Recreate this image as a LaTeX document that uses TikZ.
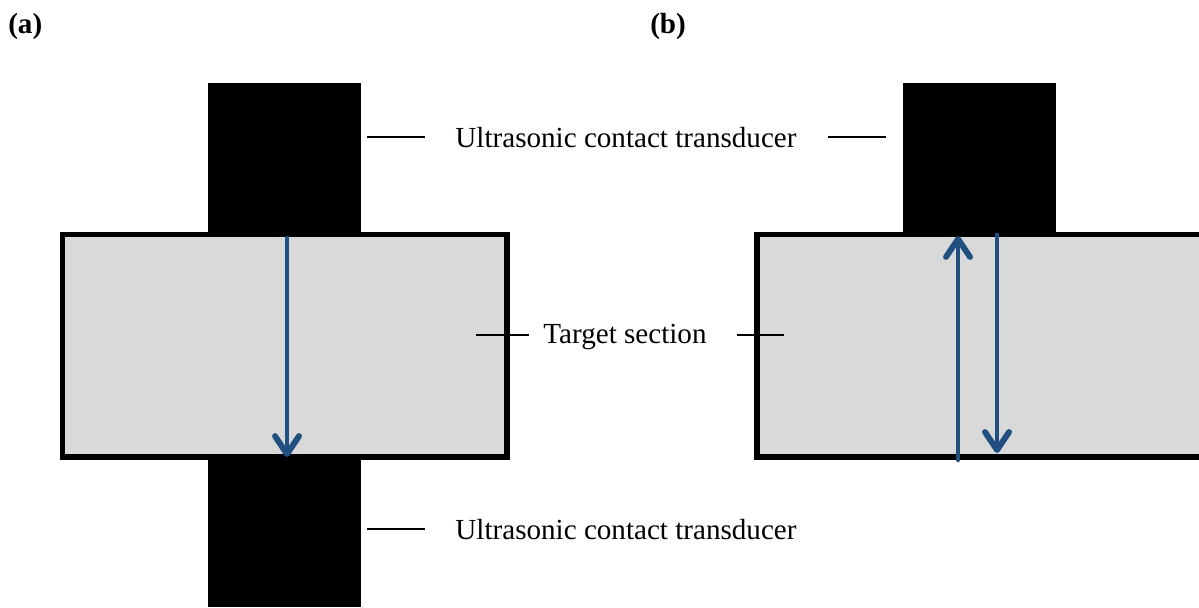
\documentclass[tikz,border=0pt]{standalone}
\usepackage{fontspec}
\setmainfont{Liberation Serif}
\usetikzlibrary{arrows.meta}
\definecolor{wavecol}{RGB}{33,79,128}
\definecolor{sectioncol}{RGB}{217,217,217}

\begin{document}
\begin{tikzpicture}[x=0.025cm, y=-0.025cm,
  probe/.style={fill=black},
  body/.style={fill=sectioncol, draw=black, line width=3.6pt},
  wave/.style={draw=wavecol, line width=3.2pt, line cap=round, -{Straight Barb[length=4.5mm, width=6mm, round, line width=4.2pt]}},
  lbl/.style={font=\fontsize{20.7}{24}\selectfont, inner sep=0pt, anchor=base},
  tag/.style={font=\fontsize{20.7}{24}\selectfont\bfseries, inner sep=0pt, anchor=base west},
  lead/.style={line width=1.5pt}
]
\useasboundingbox (0,0) rectangle (1199,607);

% panel (a): through-transmission
\fill[probe] (208,83) rectangle (361,236);
\fill[probe] (208,456) rectangle (361,607);
\draw[body] (62.5,234.5) rectangle (507,457);
\coordinate (a-in) at (287,238);
\coordinate (a-out) at (287,457);
\draw[wave] (a-in) -- (a-out);

% panel (b): pulse-echo
\fill[probe] (903,83) rectangle (1056,236);
\draw[body] (757,234.5) rectangle (1215,457);
\coordinate (b-echo) at (958,460);
\coordinate (b-back) at (958,236);
\coordinate (b-in) at (997,233);
\coordinate (b-out) at (997,453);
\draw[wave] (b-echo) -- (b-back);
\draw[wave, line cap=butt] (b-in) -- (b-out);

% labels
\node[tag] (taga) at (8,33) {(a)};
\node[tag] (tagb) at (650,33) {(b)};

\node[lbl] (probetop) at (626,147) {Ultrasonic contact transducer};
\draw[lead] (probetop.west) ++(-30,0) -- ++(-58,0);
\draw[lead] (probetop.east) ++(31,0) -- ++(58,0);

\node[lbl] (target) at (625,343) {Target section};
\draw[lead] (target.west) ++(-14,-1.5) -- ++(-53,0);
\draw[lead] (target.east) ++(30,-1.5) -- ++(47,0);

\node[lbl] (probebot) at (626,539) {Ultrasonic contact transducer};
\draw[lead] (probebot.west) ++(-30,0) -- ++(-58,0);
\end{tikzpicture}
\end{document}
